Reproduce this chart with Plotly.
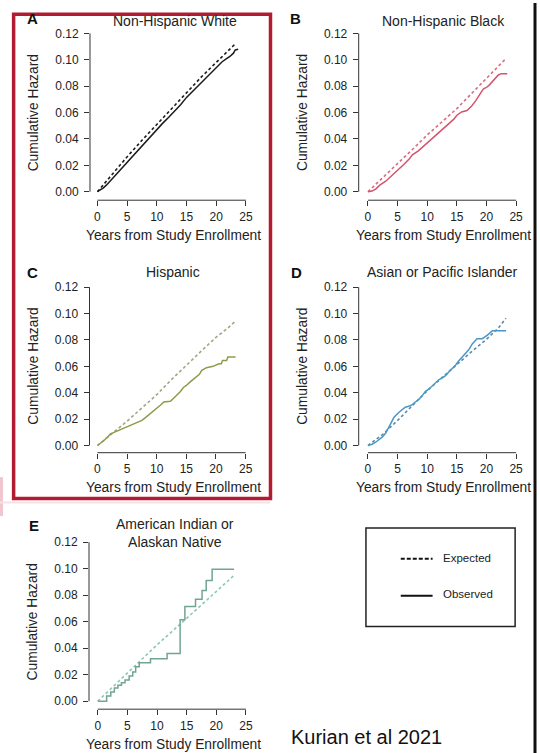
import plotly.graph_objects as go

W, H = 540, 753

# ---------------- data ----------------
year_ticks = [0, 5, 10, 15, 20, 25]
hazard_ticks = [0.00, 0.02, 0.04, 0.06, 0.08, 0.10, 0.12]
hazard_tick_labels = ["0.00", "0.02", "0.04", "0.06", "0.08", "0.10", "0.12"]

panel_letters = ["A", "B", "C", "D", "E"]
panel_titles = ["Non-Hispanic White", "Non-Hispanic Black", "Hispanic",
                "Asian or Pacific Islander", "American Indian or<br>Alaskan Native"]

# A: Non-Hispanic White
a_exp_t = [0, 2.5, 5, 7.5, 10, 12.5, 15, 17.5, 20, 22, 23.3]
a_exp_v = [0, 0.0135, 0.0265, 0.039, 0.051, 0.0635, 0.0755, 0.087, 0.098, 0.107, 0.1125]
a_obs_t = [0, 0.5, 1, 1.5, 2, 3, 4, 5, 6, 7, 8, 9, 10, 11, 12, 13, 14, 15, 16, 17,
           18, 19, 20, 21, 21.8, 22.3, 22.9, 23.2, 23.7]
a_obs_v = [0, 0.0012, 0.003, 0.005, 0.0075, 0.012, 0.0172, 0.0228, 0.0275, 0.0323, 0.0372,
           0.042, 0.047, 0.052, 0.0565, 0.061, 0.066, 0.0715, 0.076, 0.081, 0.085, 0.0895,
           0.094, 0.0985, 0.101, 0.1025, 0.105, 0.1074, 0.108]

# B: Non-Hispanic Black
b_exp_t = [0, 2.5, 5, 7.5, 10, 12.5, 15, 17.5, 20, 22, 23.3]
b_exp_v = [0, 0.0105, 0.021, 0.032, 0.043, 0.053, 0.063, 0.0745, 0.086, 0.095, 0.101]
b_obs_t = [0, 0.7, 1.3, 2, 3, 4, 5, 6, 7, 7.5, 8.5, 9.5, 10, 11, 12, 12.5, 13.5, 14.5,
           15, 15.8, 16.7, 17.5, 18.2, 18.7, 19.2, 19.5, 20, 20.5, 21, 21.6, 22, 22.5, 23.5]
b_obs_v = [0, 0.0005, 0.002, 0.005, 0.008, 0.012, 0.0158, 0.0205, 0.025, 0.028, 0.031,
           0.035, 0.037, 0.0415, 0.0455, 0.0475, 0.051, 0.055, 0.058, 0.0605, 0.0615,
           0.065, 0.069, 0.073, 0.076, 0.078, 0.079, 0.081, 0.0835, 0.087, 0.0885,
           0.0895, 0.0895]

# C: Hispanic
c_exp_t = [0, 2.5, 5, 7.5, 10, 12.5, 15, 17.5, 20, 22, 23.2]
c_exp_v = [0, 0.0092, 0.0184, 0.0285, 0.0385, 0.050, 0.061, 0.0715, 0.082, 0.089, 0.094]
c_obs_t = [0, 0.5, 1.1, 1.7, 2.2, 2.7, 3.3, 4.2, 5, 5.8, 6.7, 7.5, 8.2, 8.9, 9.5, 10,
           10.6, 11.2, 12.3, 12.9, 13.4, 14, 14.5, 15, 15.6, 16.2, 16.7, 17.2, 17.6,
           18.4, 19.5, 20.1, 20.5, 20.9, 21.1, 21.8, 22.0, 23.3]
c_obs_v = [0, 0.0015, 0.0038, 0.0065, 0.0088, 0.0098, 0.011, 0.0125, 0.0143, 0.016,
           0.0176, 0.019, 0.0215, 0.024, 0.026, 0.028, 0.0305, 0.033, 0.0335, 0.036,
           0.038, 0.041, 0.044, 0.0455, 0.048, 0.050, 0.052, 0.054, 0.057, 0.059, 0.060,
           0.0615, 0.062, 0.062, 0.0645, 0.0645, 0.067, 0.067]

# D: Asian or Pacific Islander
d_exp_t = [0, 2.5, 5, 7.5, 10, 12.5, 15, 17.5, 20, 22, 23.3]
d_exp_v = [0, 0.0085, 0.019, 0.030, 0.0415, 0.0515, 0.0617, 0.0712, 0.0805, 0.089, 0.0965]
d_obs_t = [0, 0.7, 1.3, 1.9, 2.4, 3, 3.5, 4, 4.4, 5.2, 5.7, 6.3, 7, 7.5, 8, 8.6, 9.2,
           9.7, 10.2, 10.8, 11.4, 12, 12.5, 13.1, 13.6, 14.2, 14.8, 15.3, 15.9, 16.5,
           17, 17.6, 18, 18.4, 19.3, 19.7, 20.1, 20.5, 21, 21.8, 23.3]
d_obs_v = [0, 0.001, 0.0025, 0.0045, 0.0063, 0.0095, 0.0138, 0.018, 0.0214, 0.025,
           0.027, 0.029, 0.030, 0.031, 0.033, 0.035, 0.038, 0.041, 0.0425, 0.045,
           0.0475, 0.050, 0.051, 0.053, 0.0555, 0.058, 0.061, 0.064, 0.067, 0.070,
           0.0725, 0.077, 0.079, 0.081, 0.081, 0.082, 0.0835, 0.085, 0.087, 0.087, 0.087]

# E: American Indian or Alaskan Native (step function)
e_exp_t = [0, 5, 10, 15, 20, 23]
e_exp_v = [0, 0.021, 0.0425, 0.0625, 0.0825, 0.095]
e_obs_t = [0, 1.5, 2.2, 2.8, 3.4, 4.0, 4.6, 5.3, 5.9, 6.4, 7.0, 8.9, 11.7, 13.9, 14.7,
           16.5, 17.6, 18.3, 19.3, 23.0]
e_obs_v = [0, 0.004, 0.007, 0.010, 0.012, 0.014, 0.016, 0.019, 0.022, 0.026, 0.029,
           0.032, 0.036, 0.0615, 0.0715, 0.077, 0.0835, 0.091, 0.0995, 0.0995]

legend_labels = ["Expected", "Observed"]
source_note = "Kurian et al 2021"

# ---------------- styling / geometry ----------------
series = [
    (a_exp_t, a_exp_v, a_obs_t, a_obs_v, "#1c1c1c", "#1c1c1c", "linear"),
    (b_exp_t, b_exp_v, b_obs_t, b_obs_v, "#dc6a82", "#d4546d", "linear"),
    (c_exp_t, c_exp_v, c_obs_t, c_obs_v, "#a3a484", "#8e9c48", "linear"),
    (d_exp_t, d_exp_v, d_obs_t, d_obs_v, "#5e8aa6", "#4a98c8", "linear"),
    (e_exp_t, e_exp_v, e_obs_t, e_obs_v, "#8fc6b6", "#72a394", "hv"),
]

# pixel geometry: (y-axis x, x=0 px, x=25 px, y=0 px, y=0.12 px, x-axis y)
geom = [
    (90.5, 98.0, 247.3, 189.5, 30.5, 198.0),
    (360.7, 370.0, 519.0, 189.5, 30.5, 198.0),
    (90.0, 98.0, 247.0, 444.3, 285.3, 451.5),
    (360.7, 370.0, 519.0, 444.3, 285.3, 451.5),
    (89.5, 98.3, 247.3, 701.0, 541.3, 709.0),
]
letter_pos = [(33, 16), (297, 16), (33, 271), (298, 270.5), (34, 525)]
title_pos = [(175.5, 18), (445.5, 18), (174, 270), (445, 270.5), (176, 532.5)]

FONT = "Liberation Sans, Arial, Helvetica, sans-serif"
TXT = "#222222"
AX = "#333333"

fig = go.Figure()
annotations = []
shapes = []


def px(x):
    return x / W


def py(y):
    return 1 - y / H


for i, (g, s) in enumerate(zip(geom, series)):
    n = i + 1
    yax_x, x0p, x25p, y0p, y12p, xax_y = g
    sx = (x25p - x0p) / 25.0
    sy = (y0p - y12p) / 0.12
    right = x25p + 4
    top = y12p - 4
    xr = [(yax_x - x0p) / sx, 25 + 4 / sx]
    yr = [-(xax_y - y0p) / sy, 0.12 + 4 / sy]
    xa = "x" if n == 1 else f"x{n}"
    ya = "y" if n == 1 else f"y{n}"
    et, ev, ot, ov, ce, co, shp = s

    fig.add_trace(go.Scatter(x=et, y=ev, mode="lines", xaxis=xa, yaxis=ya,
                             line=dict(color=ce, width=1.6, dash="3px,2.5px"),
                             showlegend=False, hoverinfo="skip"))
    fig.add_trace(go.Scatter(x=ot, y=ov, mode="lines", xaxis=xa, yaxis=ya,
                             line=dict(color=co, width=1.5, shape=shp),
                             showlegend=False, hoverinfo="skip"))

    axis_common = dict(showgrid=False, zeroline=False, showline=False, ticks="outside",
                       ticklen=5, tickwidth=1, tickcolor=AX,
                       tickfont=dict(family=FONT, size=12, color=TXT), fixedrange=True)
    fig.update_layout(**{
        ("xaxis" if n == 1 else f"xaxis{n}"): dict(
            domain=[px(yax_x), px(right)], range=xr, anchor=ya,
            tickmode="array", tickvals=year_ticks,
            ticktext=[str(v) for v in year_ticks], **axis_common),
        ("yaxis" if n == 1 else f"yaxis{n}"): dict(
            domain=[py(xax_y), py(top)], range=yr, anchor=xa,
            tickmode="array", tickvals=hazard_ticks, ticktext=hazard_tick_labels,
            ticklabelstandoff=3, **axis_common),
    })

    # R-style detached axis lines
    shapes.append(dict(type="line", xref=xa, yref=f"{ya} domain", x0=0, x1=25, y0=0, y1=0,
                       line=dict(color=AX, width=1)))
    shapes.append(dict(type="line", xref=f"{xa} domain", yref=ya, x0=0, x1=0, y0=0, y1=0.12,
                       line=dict(color=AX, width=1)))

    # axis titles
    annotations.append(dict(text="Years from Study Enrollment", xref="paper", yref="paper",
                            x=px((yax_x + x25p) / 2 + 6), y=py(xax_y + 35), showarrow=False,
                            xanchor="center", yanchor="middle",
                            font=dict(family=FONT, size=13.8, color=TXT)))
    annotations.append(dict(text="Cumulative Hazard", xref="paper", yref="paper",
                            x=px(yax_x - 56.5), y=py((y0p + y12p) / 2), showarrow=False,
                            textangle=-90, xanchor="center", yanchor="middle",
                            font=dict(family=FONT, size=13.8, color=TXT)))
    # panel title and letter
    tx, ty = title_pos[i]
    annotations.append(dict(text=panel_titles[i], xref="paper", yref="paper",
                            x=px(tx), y=py(ty), showarrow=False, xanchor="center",
                            yanchor="middle", align="center",
                            font=dict(family=FONT, size=14, color=TXT)))
    lx, ly = letter_pos[i]
    annotations.append(dict(text=f"<b>{panel_letters[i]}</b>", xref="paper", yref="paper",
                            x=px(lx), y=py(ly), showarrow=False, xanchor="center",
                            yanchor="middle", font=dict(family=FONT, size=15, color="#111")))

# legend box (drawn manually)
shapes.append(dict(type="rect", xref="paper", yref="paper", x0=px(368), x1=px(518),
                   y0=py(626), y1=py(527), line=dict(color="#222", width=1.5)))
shapes.append(dict(type="line", xref="paper", yref="paper", x0=px(403), x1=px(435),
                   y0=py(558), y1=py(558), line=dict(color="#111", width=2, dash="4px,2px")))
shapes.append(dict(type="line", xref="paper", yref="paper", x0=px(403), x1=px(435),
                   y0=py(595), y1=py(595), line=dict(color="#111", width=2)))
for lbl, yy in zip(legend_labels, [557, 593]):
    annotations.append(dict(text=lbl, xref="paper", yref="paper", x=px(443), y=py(yy),
                            showarrow=False, xanchor="left", yanchor="middle",
                            font=dict(family=FONT, size=11.5, color="#222")))

annotations.append(dict(text=source_note, xref="paper", yref="paper", x=px(291), y=py(737),
                        showarrow=False, xanchor="left", yanchor="middle",
                        font=dict(family=FONT, size=20, color="#111")))

# frame decorations from the screenshot
shapes.append(dict(type="rect", xref="paper", yref="paper", x0=px(13.7), x1=px(272),
                   y0=py(497.5), y1=py(11.2), line=dict(color="#b21c31", width=3.5)))
shapes.append(dict(type="line", xref="paper", yref="paper", x0=px(538), x1=px(538),
                   y0=0, y1=1, line=dict(color="#111", width=3)))
shapes.append(dict(type="rect", xref="paper", yref="paper", x0=0, x1=px(3),
                   y0=py(515), y1=py(476), line=dict(width=0), fillcolor="#f2c6ce"))
shapes.append(dict(type="line", xref="paper", yref="paper", x0=0, x1=px(272),
                   y0=py(501.5), y1=py(501.5), line=dict(color="#f6e1e5", width=2)))

fig.update_layout(width=W, height=H, margin=dict(l=0, r=0, t=0, b=0),
                  paper_bgcolor="white", plot_bgcolor="white",
                  shapes=shapes, annotations=annotations, showlegend=False)

fig.write_html("out.html", config={"displayModeBar": False},
               post_script="document.documentElement.style.margin='0';"
                           "document.documentElement.style.padding='0';"
                           "document.body.style.margin='0';document.body.style.padding='0';"
                           "document.body.style.overflow='hidden';")
